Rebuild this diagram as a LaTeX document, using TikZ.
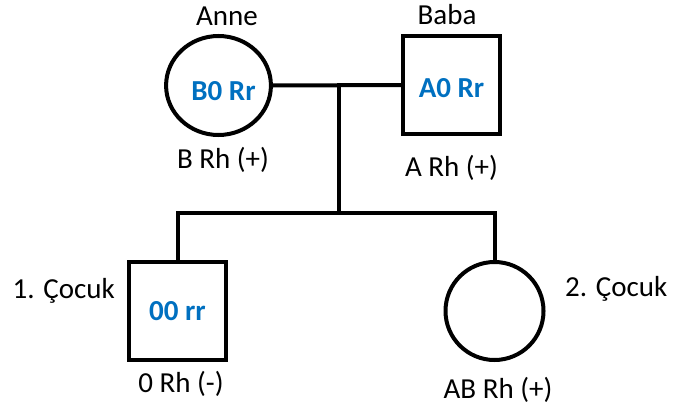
\documentclass[tikz,border=0pt]{standalone}
\usepackage{fontspec}
\setmainfont{Carlito}
\usepackage{tikz}
\usetikzlibrary{positioning,shapes}
\definecolor{genoblue}{HTML}{0070C0}
\tikzstyle{edge}=[
	-,
	draw=black,
	line width=4pt
]
\tikzstyle{person}=[
	draw=black,
	line width=4pt,
	inner sep=0pt,
	font=\fontsize{29}{35}\selectfont\bfseries,
	text=genoblue
]
\tikzstyle{female}=[
	person,
	ellipse,
	minimum width=99pt,
	minimum height=99pt
]
\tikzstyle{male}=[
	person,
	rectangle,
	minimum width=97pt,
	minimum height=97pt
]
\tikzstyle{tlabel}=[
	inner sep=0pt,
	font=\fontsize{29}{35}\selectfont
]

\begin{document}
\begin{tikzpicture}[x=1pt,y=1pt]
\useasboundingbox (0,0) rectangle (684,408);
\node[female, text height=31pt] (anne) at (218.5,322.5) {\hspace*{10pt}B0 Rr};
\node[male, text height=25pt] (baba) at (451.5,323) {A0 Rr};
\node[male, minimum height=98pt] (cocuk1) at (177.5,97) {00 rr};
\node[female, minimum width=98pt, minimum height=98pt] (cocuk2) at (494.5,97) {};

\node[tlabel, above=8.5pt of anne, xshift=8.5pt] (anneName) {Anne};
\node[tlabel, above=9.5pt of baba, xshift=-4.5pt] (babaName) {Baba};
\node[tlabel, below=10.5pt of anne, xshift=4.5pt] (anneBlood) {B Rh (+)};
\node[tlabel, below=19.5pt of baba] (babaBlood) {A Rh (+)};
\node[tlabel, below=9.5pt of cocuk1, xshift=3.5pt] (cocuk1Blood) {0 Rh (-)};
\node[tlabel, below=15.5pt of cocuk2, xshift=3.5pt] (cocuk2Blood) {AB Rh (+)};
\node[tlabel, left=12pt of cocuk1, yshift=20pt] (cocuk1Name) {1. Çocuk};
\node[tlabel, right=19.5pt of cocuk2, yshift=22pt] (cocuk2Name) {2. Çocuk};

\coordinate (mid) at (339,323);
\coordinate (split) at (339,195);

\draw[edge] (anne.east) to (baba.west);
\draw[edge] (mid) to (split);
\draw[edge] (cocuk1.north) |- (split) -| (cocuk2.north);
\end{tikzpicture}
\end{document}
